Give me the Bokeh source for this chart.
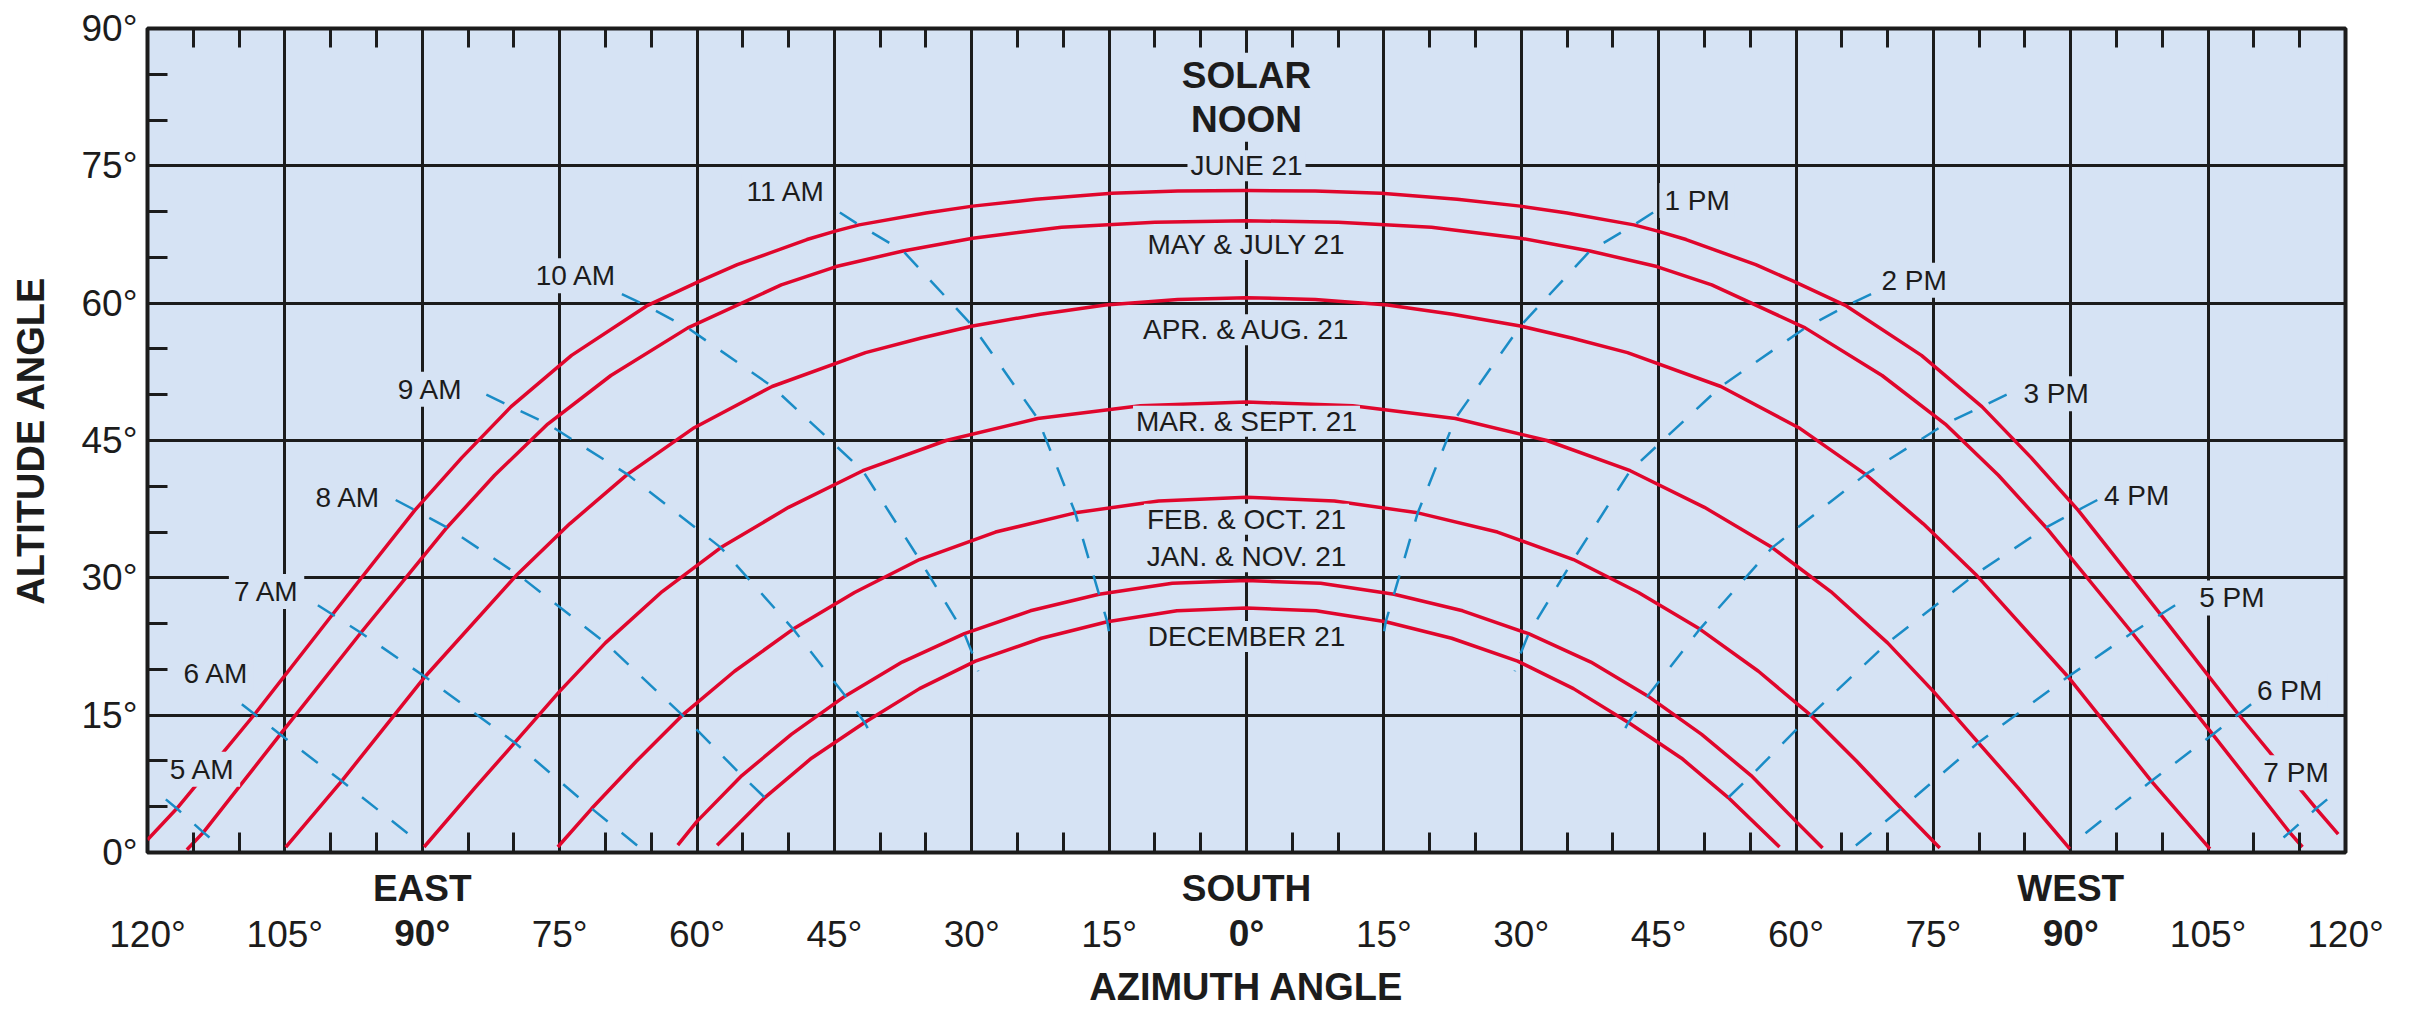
from bokeh.plotting import figure
from bokeh.models import (Range1d, FixedTicker, LinearAxis, Grid, ColumnDataSource,
                          CustomJSTickFormatter)
from bokeh.embed import file_html
from bokeh.resources import INLINE
from bokeh.core.properties import value

# ---------------- data ----------------
# azimuth in degrees (negative = east of south), altitude in degrees
june_az = [-120.0, -116.8, -108.3, -99.8, -90.8, -85.7, -80.3, -73.7, -65.5, -59.7, -55.6, -48.0,
           -44.8, -42.3, -35.0, -29.9, -23.0, -14.7, -7.5, 0.0, 7.5, 14.7, 23.0, 29.9, 35.0, 42.3,
           44.8, 48.0, 55.6, 59.7, 65.5, 73.7, 80.3, 85.7, 90.8, 99.8, 108.3, 116.8, 119.2]
june_alt = [1.4, 4.8, 15.1, 26.0, 37.4, 43.1, 48.7, 54.3, 59.7, 62.4, 64.2, 66.95,
            67.9, 68.55, 69.85, 70.6, 71.35, 72.0, 72.25, 72.3, 72.25, 72.0, 71.35, 70.6, 69.85, 68.55,
            67.9, 66.95, 64.2, 62.4, 59.7, 54.3, 48.7, 43.1, 37.4, 26.0, 15.1, 4.8, 2.0]

may_az = [-115.7, -113.9, -105.5, -96.7, -87.3, -82.1, -76.3, -69.4, -61.0, -50.8, -44.8, -37.5,
          -29.9, -20.2, -10.0, 0.0, 10.0, 20.2, 29.9, 37.5, 44.8, 50.8, 61.0, 69.4, 76.3, 82.1,
          87.3, 96.7, 105.5, 113.9, 115.3]
may_alt = [0.3, 2.2, 12.9, 24.0, 35.5, 41.2, 46.8, 52.1, 57.3, 62.0, 64.0, 65.7,
           67.1, 68.3, 68.85, 69.0, 68.85, 68.3, 67.1, 65.7, 64.0, 62.0, 57.3, 52.1, 46.8, 41.2,
           35.5, 24.0, 12.9, 2.2, 0.6]

apr_az = [-104.9, -98.8, -89.7, -79.6, -73.9, -67.6, -60.3, -51.8, -41.6, -35.5, -29.9, -22.5,
          -15.4, -7.5, 0.0, 7.5, 15.4, 22.5, 29.9, 35.5, 41.6, 51.8, 60.3, 67.6, 73.9, 79.6,
          89.7, 98.8, 105.2]
apr_alt = [0.6, 7.8, 19.2, 30.4, 35.9, 41.3, 46.4, 50.9, 54.6, 56.2, 57.5, 58.8,
           59.8, 60.4, 60.6, 60.4, 59.8, 58.8, 57.5, 56.2, 54.6, 50.9, 46.4, 41.3, 35.9, 30.4,
           19.2, 7.8, 0.4]

mar_az = [-89.8, -84.3, -79.9, -75.0, -70.0, -63.8, -57.4, -50.0, -41.9, -32.8, -22.8, -11.6, 0.0,
          11.6, 22.8, 32.8, 41.9, 50.0, 57.4, 63.8, 70.0, 75.0, 79.9, 84.3, 89.9]
mar_alt = [0.6, 7.0, 12.0, 17.6, 22.9, 28.5, 33.3, 37.7, 41.7, 45.0, 47.4, 48.8, 49.2,
           48.8, 47.4, 45.0, 41.7, 37.7, 33.3, 28.5, 22.9, 17.6, 12.0, 7.0, 0.4]

feb_az = [-75.2, -71.5, -66.6, -61.6, -55.9, -49.5, -42.8, -35.7, -27.4, -18.7, -9.6, 0.0,
          9.6, 18.7, 27.4, 35.7, 42.8, 49.5, 55.9, 61.6, 66.6, 71.5, 75.7]
feb_alt = [0.6, 4.8, 10.0, 15.0, 19.8, 24.4, 28.4, 32.0, 35.0, 37.1, 38.4, 38.8,
           38.4, 37.1, 35.0, 32.0, 28.4, 24.4, 19.8, 15.0, 10.0, 4.8, 0.5]

jan_az = [-62.1, -60.0, -55.1, -49.7, -43.8, -37.6, -30.8, -23.6, -16.1, -8.1, 0.0,
          8.1, 16.1, 23.6, 30.8, 37.6, 43.8, 49.7, 55.1, 60.0, 62.9]
jan_alt = [0.8, 3.4, 8.4, 12.9, 17.1, 20.8, 23.9, 26.4, 28.2, 29.4, 29.7,
           29.4, 28.2, 26.4, 23.9, 20.8, 17.1, 12.9, 8.4, 3.4, 0.5]

dec_az = [-57.8, -52.6, -47.5, -41.7, -35.7, -29.6, -22.4, -15.2, -7.6, 0.0,
          7.6, 15.2, 22.4, 29.6, 35.7, 41.7, 47.5, 52.6, 58.2]
dec_alt = [0.8, 6.0, 10.3, 14.2, 17.9, 20.9, 23.4, 25.2, 26.4, 26.7,
           26.4, 25.2, 23.4, 20.9, 17.9, 14.2, 10.3, 6.0, 0.6]

# hour lines (sun position at the same solar time on each date)
h5am_az = [-118.0, -116.8, -113.9, -112.6]
h5am_alt = [5.8, 4.8, 2.2, 1.1]
h6am_az = [-109.7, -108.3, -105.5, -98.8, -91.1]
h6am_alt = [16.2, 15.1, 12.9, 7.8, 1.7]
h7am_az = [-101.4, -99.8, -96.7, -89.7, -79.9, -71.5, -66.2]
h7am_alt = [27.0, 26.0, 24.0, 19.2, 12.0, 4.8, 0.5]
h8am_az = [-92.9, -90.8, -87.3, -79.6, -70.0, -61.6, -55.1, -52.6, -51.5]
h8am_alt = [38.5, 37.4, 35.5, 30.4, 22.9, 15.0, 8.4, 6.0, 4.9]
h9am_az = [-83.0, -80.3, -76.3, -67.6, -57.4, -49.5, -43.8, -41.7, -41.0]
h9am_alt = [50.0, 48.7, 46.8, 41.3, 33.3, 24.4, 17.1, 14.2, 12.9]
h10am_az = [-68.2, -65.5, -61.0, -51.8, -41.9, -35.7, -30.8, -29.6, -29.3]
h10am_alt = [61.0, 59.7, 57.3, 50.9, 41.7, 32.0, 23.9, 20.9, 19.8]
h11am_az = [-44.4, -42.3, -37.5, -29.9, -22.8, -18.7, -16.1, -15.2, -15.0]
h11am_alt = [69.9, 68.55, 65.7, 57.5, 47.4, 37.1, 28.2, 25.2, 24.0]
h1pm_az = [44.4, 42.3, 37.5, 29.9, 22.8, 18.7, 16.1, 15.2, 15.0]
h1pm_alt = [69.9, 68.55, 65.7, 57.5, 47.4, 37.1, 28.2, 25.2, 24.0]
h2pm_az = [68.2, 65.5, 61.0, 51.8, 41.9, 35.7, 30.8, 29.6, 29.3]
h2pm_alt = [61.0, 59.7, 57.3, 50.9, 41.7, 32.0, 23.9, 20.9, 19.8]
h3pm_az = [83.0, 80.3, 76.3, 67.6, 57.4, 49.5, 43.8, 41.7, 41.0]
h3pm_alt = [50.0, 48.7, 46.8, 41.3, 33.3, 24.4, 17.1, 14.2, 12.9]
h4pm_az = [92.9, 90.8, 87.3, 79.6, 70.0, 61.6, 55.1, 52.6, 51.5]
h4pm_alt = [38.5, 37.4, 35.5, 30.4, 22.9, 15.0, 8.4, 6.0, 4.9]
h5pm_az = [101.4, 99.8, 96.7, 89.7, 79.9, 71.5, 66.2]
h5pm_alt = [27.0, 26.0, 24.0, 19.2, 12.0, 4.8, 0.5]
h6pm_az = [109.7, 108.3, 105.5, 98.8, 91.1]
h6pm_alt = [16.2, 15.1, 12.9, 7.8, 1.7]
h7pm_az = [118.0, 116.8, 113.9, 112.6]
h7pm_alt = [5.8, 4.8, 2.2, 1.1]

# labels
date_labels = ["JUNE 21", "MAY & JULY 21", "APR. & AUG. 21", "MAR. & SEPT. 21",
               "FEB. & OCT. 21", "JAN. & NOV. 21", "DECEMBER 21"]
date_label_alt = [75.0, 66.4, 57.1, 47.1, 36.4, 32.3, 23.6]
hour_labels = ["5 AM", "6 AM", "7 AM", "8 AM", "9 AM", "10 AM", "11 AM",
               "1 PM", "2 PM", "3 PM", "4 PM", "5 PM", "6 PM", "7 PM"]
hour_label_az = [-114.0, -112.5, -107.0, -98.1, -89.1, -73.2, -50.3,
                 49.2, 72.9, 88.4, 97.2, 107.6, 113.9, 114.6]
hour_label_alt = [9.1, 19.6, 28.5, 38.8, 50.6, 63.0, 72.2,
                  71.2, 62.5, 50.1, 39.0, 27.8, 17.7, 8.7]
noon_labels = ["SOLAR", "NOON"]
noon_label_alt = [84.9, 80.1]

x_ticks = [-120, -105, -90, -75, -60, -45, -30, -15, 0, 15, 30, 45, 60, 75, 90, 105, 120]
x_tick_labels = ["120°", "105°", "90°", "75°", "60°", "45°", "30°", "15°", "0°",
                 "15°", "30°", "45°", "60°", "75°", "90°", "105°", "120°"]
x_minor = [-115, -110, -100, -95, -85, -80, -70, -65, -55, -50, -40, -35, -25, -20, -10, -5,
           5, 10, 20, 25, 35, 40, 50, 55, 65, 70, 80, 85, 95, 100, 110, 115]
compass_ticks = [-90, 0, 90]
compass_labels = ["EAST", "SOUTH", "WEST"]
y_ticks = [0, 15, 30, 45, 60, 75, 90]
y_tick_labels = ["0°", "15°", "30°", "45°", "60°", "75°", "90°"]
y_minor = [5, 10, 20, 25, 35, 40, 50, 55, 65, 70, 80, 85]

# ---------------- style ----------------
BG = "#D6E3F4"
INK = "#1C1C1C"
RED = "#E0062C"
BLUE = "#1A8CC6"
FONT = "Liberation Sans"

p = figure(width=2412, height=1010, x_range=Range1d(-120, 120), y_range=Range1d(0, 90),
           output_backend="svg", toolbar_location=None,
           x_axis_location=None, y_axis_location=None,
           min_border_left=147, min_border_right=67, min_border_top=28, min_border_bottom=154,
           background_fill_color=BG, border_fill_color="white",
           outline_line_color=INK, outline_line_width=4)
p.grid.visible = False

p.add_layout(Grid(dimension=0, ticker=FixedTicker(ticks=x_ticks),
                  grid_line_color=INK, grid_line_width=3), "center")
p.add_layout(Grid(dimension=1, ticker=FixedTicker(ticks=y_ticks),
                  grid_line_color=INK, grid_line_width=3), "center")


def fmt(tick_values, label_texts, skip=()):
    return CustomJSTickFormatter(
        args=dict(tvals=tick_values, tlabels=label_texts, skipv=list(skip)), code="""
        if (skipv.indexOf(tick) >= 0) { return ""; }
        const i = tvals.indexOf(tick);
        return i >= 0 ? tlabels[i] : "";
    """)


def base_axis(ax):
    ax.axis_line_color = None
    ax.major_tick_line_color = None
    ax.major_tick_in = 0
    ax.major_tick_out = 0
    ax.minor_tick_line_color = INK
    ax.minor_tick_line_width = 3
    ax.minor_tick_out = 0
    ax.major_label_text_font = FONT
    ax.major_label_text_color = INK
    ax.axis_label_text_font = FONT
    ax.axis_label_text_color = INK
    ax.axis_label_text_font_style = "bold"
    return ax


# compass axis (closest to the frame): bold "EAST / 90°" style two-line labels + inner ticks
compass_text = [c + "\n" + x_tick_labels[x_ticks.index(t)] for c, t in zip(compass_labels, compass_ticks)]
xa1 = base_axis(LinearAxis(ticker=FixedTicker(ticks=compass_ticks, minor_ticks=x_minor),
                           formatter=fmt(compass_ticks, compass_text)))
xa1.minor_tick_in = 20
xa1.major_label_text_font_size = "37px"
xa1.major_label_text_font_style = "bold"
xa1.major_label_text_line_height = 1.1
xa1.major_label_text_align = "center"
xa1.major_label_standoff = 15
p.add_layout(xa1, "below")

# degree labels (regular weight) pulled up into the second row of the compass labels
xa2 = base_axis(LinearAxis(ticker=FixedTicker(ticks=x_ticks, minor_ticks=[]),
                           formatter=fmt(x_ticks, x_tick_labels, skip=compass_ticks)))
xa2.minor_tick_line_color = None
xa2.minor_tick_in = 0
xa2.major_label_text_font_size = "37px"
xa2.major_label_standoff = -43
xa2.axis_label = "AZIMUTH ANGLE"
xa2.axis_label_text_font_size = "38px"
xa2.axis_label_standoff = 8
p.add_layout(xa2, "below")

xtop = base_axis(LinearAxis(ticker=FixedTicker(ticks=[], minor_ticks=x_minor)))
xtop.minor_tick_in = 19
xtop.major_label_standoff = 0
p.add_layout(xtop, "above")

ya = base_axis(LinearAxis(ticker=FixedTicker(ticks=y_ticks, minor_ticks=y_minor),
                          formatter=fmt(y_ticks, y_tick_labels)))
ya.minor_tick_in = 20
ya.major_label_text_font_size = "37px"
ya.major_label_standoff = 10
ya.axis_label = "ALTITUDE ANGLE"
ya.axis_label_text_font_size = "38px"
ya.axis_label_standoff = 27
p.add_layout(ya, "left")

# sun path curves
for az, alt in [(june_az, june_alt), (may_az, may_alt), (apr_az, apr_alt), (mar_az, mar_alt),
                (feb_az, feb_alt), (jan_az, jan_alt), (dec_az, dec_alt)]:
    p.line(az, alt, line_color=RED, line_width=3.5, line_join="round")

# hour lines
for az, alt in [(h5am_az, h5am_alt), (h6am_az, h6am_alt), (h7am_az, h7am_alt),
                (h8am_az, h8am_alt), (h9am_az, h9am_alt), (h10am_az, h10am_alt),
                (h11am_az, h11am_alt), (h1pm_az, h1pm_alt), (h2pm_az, h2pm_alt),
                (h3pm_az, h3pm_alt), (h4pm_az, h4pm_alt), (h5pm_az, h5pm_alt),
                (h6pm_az, h6pm_alt), (h7pm_az, h7pm_alt)]:
    p.line(az, alt, line_color=BLUE, line_width=2.5, line_dash="20 18")

# labels (knocked out of the grid like the original)
hour_src = ColumnDataSource(dict(x=hour_label_az, y=hour_label_alt, text=hour_labels))
p.text(x="x", y="y", text="text", source=hour_src, text_align="center", text_baseline="middle",
       text_font=value(FONT), text_font_size="28px", text_color=INK,
       background_fill_color=BG, padding=(5, 2))

date_src = ColumnDataSource(dict(x=[0] * len(date_labels), y=date_label_alt, text=date_labels))
p.text(x="x", y="y", text="text", source=date_src, text_align="center", text_baseline="middle",
       text_font=value(FONT), text_font_size="28px", text_color=INK,
       background_fill_color=BG, padding=(3, 0))

noon_src = ColumnDataSource(dict(x=[0] * len(noon_labels), y=noon_label_alt, text=noon_labels))
p.text(x="x", y="y", text="text", source=noon_src, text_align="center", text_baseline="middle",
       text_font=value(FONT), text_font_size="37px", text_font_style="bold", text_color=INK,
       background_fill_color=BG, padding=(3, 2))

open("out.html", "w").write(file_html(p, INLINE))
